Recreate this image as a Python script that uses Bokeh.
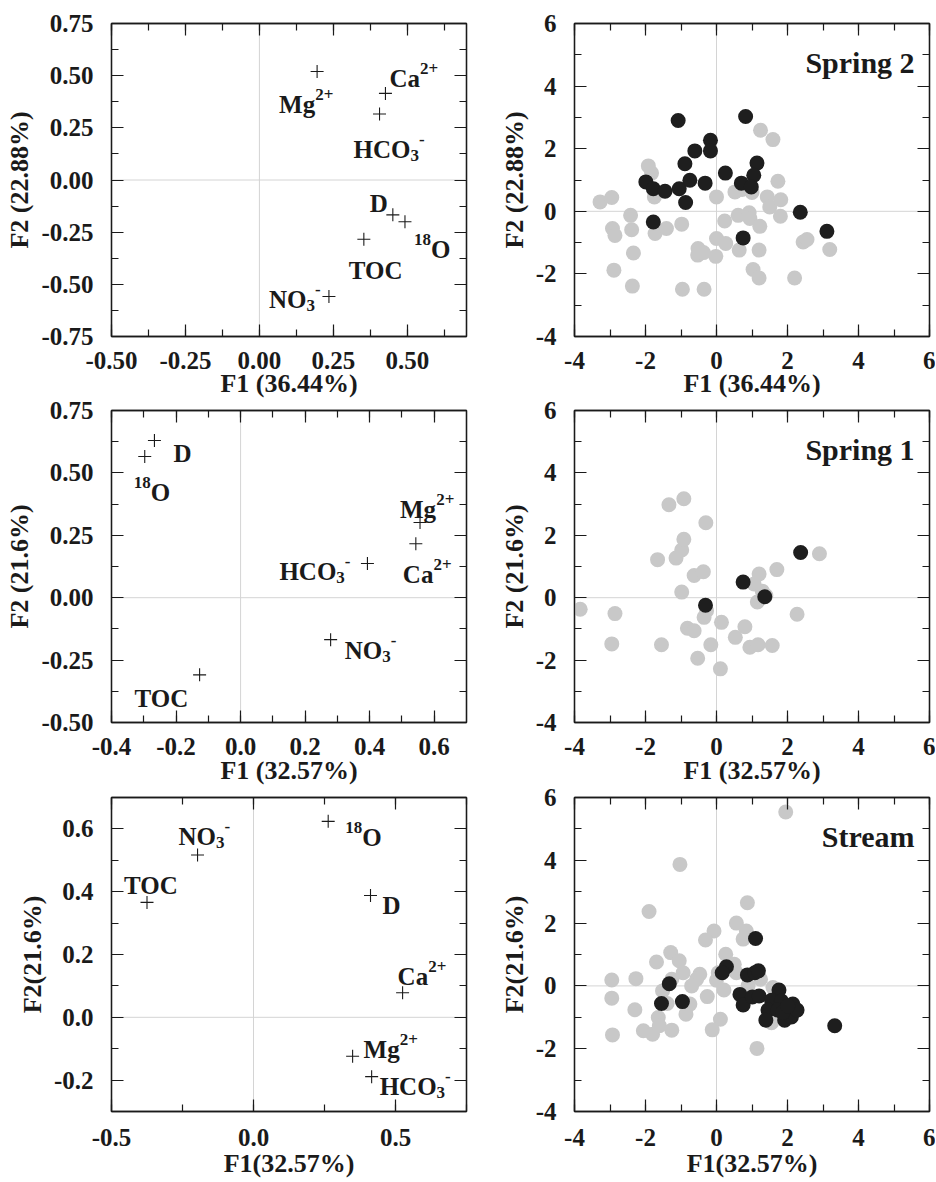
from bokeh.plotting import figure
from bokeh.layouts import gridplot
from bokeh.models import (Range1d, SingleIntervalTicker, NumeralTickFormatter, CustomJSTickFormatter,
                          LinearAxis, Span, Label, ColumnDataSource)
from bokeh.core.properties import value, field
from bokeh.embed import file_html
from bokeh.resources import INLINE

# ---------------- data ----------------
VARS = ["Mg", "Ca", "HCO3", "D", "18O", "TOC", "NO3"]

SP2_LOAD_F1 = [0.195, 0.426, 0.406, 0.451, 0.492, 0.353, 0.235]
SP2_LOAD_F2 = [0.520, 0.415, 0.316, -0.167, -0.200, -0.284, -0.558]

SP1_LOAD_F1 = [0.556, 0.543, 0.393, -0.267, -0.297, -0.127, 0.279]
SP1_LOAD_F2 = [0.301, 0.216, 0.137, 0.630, 0.566, -0.309, -0.168]

ST_LOAD_F1 = [0.349, 0.525, 0.416, 0.412, 0.263, -0.375, -0.197]
ST_LOAD_F2 = [-0.124, 0.078, -0.189, 0.388, 0.624, 0.366, 0.517]

# Spring 2 scores
SP2_GREY_F1 = [-3.28, -2.95, -2.93, -2.86, -2.89, -2.42, -2.39, -2.34, -2.37, -1.92, -1.83, -1.75,
               -1.73, -1.41, -0.98, -0.96, -0.52, -0.53, -0.37, -0.35, 0.00, 0.00, -0.02, 0.23,
               0.26, 0.52, 0.61, 0.64, 0.92, 0.94, 1.03, 1.20, 1.24, 1.59, 1.22, 1.20, 1.43,
               1.50, 1.73, 1.81, 1.80, 2.20, 2.44, 2.55, 3.19, 0.72, 1.00]
SP2_GREY_F2 = [0.30, 0.44, -0.55, -0.77, -1.88, -0.13, -0.59, -1.33, -2.39, 1.45, 1.22, 0.46,
               -0.71, -0.55, -0.41, -2.49, -1.19, -1.40, -1.32, -2.49, 0.46, -0.87, -1.44, -0.31,
               -1.03, 0.62, -0.13, -1.24, -0.05, -0.23, -1.86, -2.13, 2.59, 2.29, -0.48, -1.24, 0.46,
               0.14, 0.96, 0.37, -0.16, -2.13, -0.98, -0.90, -1.22, 0.70, 0.60]
SP2_BLACK_F1 = [-1.08, 0.82, -0.17, -0.17, -0.61, -0.89, -1.99, -1.78, -1.45, -1.05, -0.75,
                -0.32, -0.87, -1.78, 0.25, 1.14, 1.05, 0.70, 0.98, 2.36, 3.11, 0.75]
SP2_BLACK_F2 = [2.90, 3.03, 2.27, 1.93, 1.93, 1.52, 0.94, 0.72, 0.64, 0.72, 0.99,
                0.90, 0.28, -0.34, 1.22, 1.54, 1.15, 0.90, 0.78, -0.03, -0.64, -0.85]

# Spring 1 scores
SP1_BLACK_F1 = [2.37, 0.75, -0.31, 1.36]
SP1_BLACK_F2 = [1.45, 0.50, -0.24, 0.03]
SP1_GREY_F1 = [-3.84, -2.86, -2.95, -1.55, -1.66, -1.34, -0.92, -1.14, -0.98, -0.92, -0.98, -0.63,
               -0.37, -0.30, -0.28, -0.35, -0.82, -0.63, -0.53, -0.16, 0.14, 0.11, 0.53, 0.80,
               0.94, 1.17, 1.57, 1.06, 1.20, 1.29, 1.39, 1.15, 1.70, 2.27, 2.90]
SP1_GREY_F2 = [-0.37, -0.51, -1.48, -1.51, 1.22, 2.98, 3.17, 1.27, 1.53, 1.87, 0.18, 0.71,
               0.83, 2.40, -0.42, -0.63, -0.98, -1.06, -1.94, -1.51, -0.79, -2.28, -1.27, -0.93,
               -1.59, -1.51, -1.53, 0.44, 0.76, 0.21, 0.07, -0.14, 0.90, -0.53, 1.41]

# Stream scores
ST_GREY_F1 = [1.95, -1.03, -1.90, 0.87, -0.07, -0.31, 0.56, 0.84, 0.75, -1.29, -1.05, -1.69,
              -0.94, 0.26, 0.50, 0.56, -0.47, -0.56, -0.70, 0.05, 0.00, 0.21, -0.26, -2.95,
              -2.27, -2.95, -2.93, -2.30, -2.06, -1.80, -1.64, -1.61, -1.26, -1.52, -1.39, -0.86,
              -0.75, 0.11, -0.12, 0.89, 0.73, 1.24, 1.59, 1.55, 1.14, -1.26]
ST_GREY_F2 = [5.54, 3.87, 2.37, 2.65, 1.75, 1.46, 2.00, 1.75, 1.49, 1.06, 0.80, 0.76,
              0.42, 1.01, 0.69, 0.42, 0.37, 0.21, 0.00, 0.42, 0.18, -0.13, -0.34, 0.19,
              0.23, -0.39, -1.56, -0.76, -1.43, -1.54, -1.01, -1.27, -1.41, -0.16, -0.56, -0.90,
              -0.58, -1.06, -1.40, 0.00, -0.40, 0.21, -0.05, -1.17, -1.99, 0.21]
ST_BLACK_F1 = [1.10, -1.33, -1.55, -0.96, 0.28, 0.16, 0.87, 1.08, 1.18, 0.66, 0.75, 1.01, 1.20,
               1.76, 1.55, 1.83, 1.45, 1.39, 1.73, 1.92, 2.11, 2.15, 2.27, 3.33, 1.87, 2.01]
ST_BLACK_F2 = [1.51, 0.07, -0.56, -0.50, 0.61, 0.42, 0.35, 0.42, 0.48, -0.27, -0.61, -0.35, -0.32,
               -0.13, -0.46, -0.48, -0.77, -1.09, -0.77, -1.09, -0.99, -0.58, -0.77, -1.27, -0.85, -0.64]

# ---------------- styling / layout ----------------
FONT = "Liberation Serif"
INK = "#1a1a1a"
GREY = "#c8c8c8"
BLACK = "#1e1e1e"
MAIN, SMALL = 25, 17
TICK_FS, AXIS_FS = 25, 26

PARTS = {
    "Mg": [("Mg", "n"), ("2+", "sup")],
    "Ca": [("Ca", "n"), ("2+", "sup")],
    "HCO3": [("HCO", "n"), ("3", "sub"), ("-", "sup")],
    "NO3": [("NO", "n"), ("3", "sub"), ("-", "sup")],
    "18O": [("18", "sup"), ("O", "n")],
    "D": [("D", "n")],
    "TOC": [("TOC", "n")],
}
WID = {"H": 778, "C": 722, "O": 778, "N": 722, "T": 667, "D": 722, "M": 944, "g": 500,
       "a": 500, "1": 500, "2": 500, "3": 500, "8": 500, "+": 570, "-": 333}
SHIFT = {"n": 0, "sup": -10, "sub": 6}

# label offsets in screen px (start x, baseline y) relative to each loading point
OFF_SP2 = {"Mg": (-38, 33), "Ca": (4, -15), "HCO3": (-26, 35), "D": (-23, -11),
           "18O": (9, 28), "TOC": (-15, 31), "NO3": (-60, 3)}
OFF_SP1 = {"Mg": (-20, -13), "Ca": (-13, 31), "HCO3": (-88, 8), "D": (19, 13),
           "18O": (-11, 36), "TOC": (-65, 24), "NO3": (14, 11)}
OFF_ST = {"Mg": (11, -7), "Ca": (-5, -16), "HCO3": (8, 10), "D": (12, 10),
          "18O": (17, 16), "TOC": (-23, -17), "NO3": (-19, -18)}

BLANK = CustomJSTickFormatter(code="return ''")


def style_axis(ax, show_labels, standoff):
    ax.axis_line_color = INK
    ax.axis_line_width = 1.3
    ax.major_tick_in = 12
    ax.major_tick_out = 0
    ax.minor_tick_in = 7
    ax.minor_tick_out = 0
    ax.major_tick_line_color = INK
    ax.minor_tick_line_color = INK
    ax.major_tick_line_width = 1.2
    ax.minor_tick_line_width = 1.2
    ax.major_label_text_font = FONT
    ax.major_label_text_font_style = "bold"
    ax.major_label_text_color = INK
    ax.axis_label_text_font = FONT
    ax.axis_label_text_font_style = "bold"
    ax.axis_label_text_font_size = f"{AXIS_FS}px"
    ax.axis_label_text_color = INK
    if show_labels:
        ax.major_label_text_font_size = f"{TICK_FS}px"
        ax.major_label_standoff = standoff
    else:
        ax.formatter = BLANK
        ax.major_label_text_font_size = "1px"
        ax.major_label_standoff = 0


def make_fig(xr, yr, xint, yint, xfmt, yfmt, xlabel, ylabel, width, height,
             bl, br, bt, bb, xstand, xlab_stand):
    p = figure(width=width, height=height, x_range=Range1d(*xr), y_range=Range1d(*yr),
               output_backend="svg", toolbar_location=None,
               x_axis_location=None, y_axis_location=None,
               min_border_left=bl, min_border_right=br, min_border_top=bt, min_border_bottom=bb)
    p.grid.grid_line_color = None
    p.outline_line_color = INK
    p.outline_line_width = 1.3
    p.background_fill_color = "white"
    p.border_fill_color = "white"
    xt = SingleIntervalTicker(interval=xint, num_minor_ticks=2)
    yt = SingleIntervalTicker(interval=yint, num_minor_ticks=2)

    ax = LinearAxis(ticker=xt, formatter=xfmt, axis_label=xlabel)
    style_axis(ax, True, xstand)
    ax.axis_label_standoff = xlab_stand
    p.add_layout(ax, "below")

    ay = LinearAxis(ticker=yt, formatter=yfmt, axis_label=ylabel)
    style_axis(ay, True, 18)
    ay.axis_label_standoff = 4
    p.add_layout(ay, "left")

    at = LinearAxis(ticker=xt)
    style_axis(at, False, 0)
    p.add_layout(at, "above")
    ar = LinearAxis(ticker=yt)
    style_axis(ar, False, 0)
    p.add_layout(ar, "right")

    p.add_layout(Span(location=0, dimension="width", line_color="#d4d4d4", line_width=1, level="underlay"))
    p.add_layout(Span(location=0, dimension="height", line_color="#d4d4d4", line_width=1, level="underlay"))
    return p


def add_loadings(p, xs, ys, offsets):
    p.scatter(xs, ys, marker="cross", size=13, line_color=INK, line_width=1.1)
    rows = dict(x=[], y=[], text=[], xo=[], yo=[], fs=[])
    for name, x, y in zip(VARS, xs, ys):
        dx, dy = offsets[name]
        cur = dx
        for txt, kind in PARTS[name]:
            size = MAIN if kind == "n" else SMALL
            rows["x"].append(x)
            rows["y"].append(y)
            rows["text"].append(txt)
            rows["xo"].append(cur)
            rows["yo"].append(dy + SHIFT[kind])
            rows["fs"].append(f"{size}px")
            cur += sum(WID[c] for c in txt) * size / 1000.0
    src = ColumnDataSource(rows)
    p.text(x="x", y="y", text="text", x_offset="xo", y_offset="yo", source=src,
           text_font=value(FONT), text_font_style="bold", text_font_size=field("fs"),
           text_align="left", text_baseline="alphabetic", text_color=INK)


def add_scores(p, gx, gy, bx, by, title):
    p.scatter(gx, gy, marker="circle", size=15, fill_color=GREY, line_color=None)
    p.scatter(bx, by, marker="circle", size=15, fill_color=BLACK, line_color=None)
    p.add_layout(Label(x=5.58, y=4.76, text=title, text_align="right", text_baseline="alphabetic",
                       text_font=FONT, text_font_style="bold", text_font_size="30px", text_color=INK))


f2 = NumeralTickFormatter(format="0.00")
f1 = NumeralTickFormatter(format="0.0")
f0 = NumeralTickFormatter(format="0")

LW, RW = 470, 465
H1, H2, H3 = 400, 387, 395
LBL, LBR, RBL, RBR = 111, 4, 104, 6

# Row 1  (frame 23..337)
p1 = make_fig((-0.5, 0.7), (-0.75, 0.75), 0.25, 0.25, f2, f2, "F1 (36.44%)", "F2 (22.88%)",
              LW, H1, LBL, LBR, 23, 63, 15, -3)
add_loadings(p1, SP2_LOAD_F1, SP2_LOAD_F2, OFF_SP2)
p2 = make_fig((-4, 6), (-4, 6), 2, 2, f0, f0, "F1 (36.44%)", "F2 (22.88%)",
              RW, H1, RBL, RBR, 23, 63, 15, -3)
add_scores(p2, SP2_GREY_F1, SP2_GREY_F2, SP2_BLACK_F1, SP2_BLACK_F2, "Spring 2")

# Row 2  (frame 410..723)
p3 = make_fig((-0.4, 0.7), (-0.5, 0.75), 0.2, 0.25, f1, f2, "F1 (32.57%)", "F2 (21.6%)",
              LW, H2, LBL, LBR, 10, 64, 15, -2)
add_loadings(p3, SP1_LOAD_F1, SP1_LOAD_F2, OFF_SP1)
p4 = make_fig((-4, 6), (-4, 6), 2, 2, f0, f0, "F1 (32.57%)", "F2 (21.6%)",
              RW, H2, RBL, RBR, 10, 64, 15, -2)
add_scores(p4, SP1_GREY_F1, SP1_GREY_F2, SP1_BLACK_F1, SP1_BLACK_F2, "Spring 1")

# Row 3  (frame 797..1111)
p5 = make_fig((-0.5, 0.75), (-0.3, 0.7), 0.5, 0.2, f1, f1, "F1(32.57%)", "F2(21.6%)",
              LW, H3, LBL, LBR, 10, 71, 17, 0)
add_loadings(p5, ST_LOAD_F1, ST_LOAD_F2, OFF_ST)
p6 = make_fig((-4, 6), (-4, 6), 2, 2, f0, f0, "F1(32.57%)", "F2(21.6%)",
              RW, H3, RBL, RBR, 10, 71, 17, 0)
add_scores(p6, ST_GREY_F1, ST_GREY_F2, ST_BLACK_F1, ST_BLACK_F2, "Stream")

grid = gridplot([[p1, p2], [p3, p4], [p5, p6]], toolbar_location=None)

open("out.html", "w").write(file_html(grid, INLINE))
